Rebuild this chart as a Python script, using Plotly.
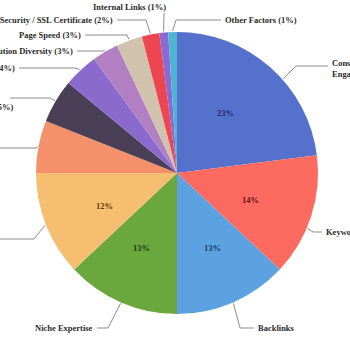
import math
import plotly.graph_objects as go

# ---- data ----
factors = [
    "Consistent Publication of Engaging Content",
    "Keywords in Meta Title Tags",
    "Backlinks",
    "Niche Expertise",
    "Searcher Engagement",
    "Freshness",
    "Trustworthiness",
    "Mobile-Friendly Website",
    "Link Distribution Diversity",
    "Page Speed",
    "Site Security / SSL Certificate",
    "Internal Links",
    "Other Factors",
]
shares = [23, 14, 13, 13, 12, 6, 5, 4, 3, 3, 2, 1, 1]
colors = ["#5571CB", "#FD6A60", "#5CA2E0", "#6AA83E", "#F6BE70", "#F4916A",
          "#4A3F56", "#8A6BCD", "#B17FC2", "#D1C2AE", "#EE4650", "#8A6AD2", "#4DB5D4"]
inside_colors = ["#1E2A66", "#5A1414", "#153A66", "#1E3A0C", "#5A380C"]
big = 5  # slices that carry the % inside

# ---- layout helpers (pixel geometry of a 350x350 canvas) ----
W = H = 350
CX, CY, R = 177, 173, 141

def px(x):
    return x / W

def py(y):
    return 1 - y / H

fig = go.Figure(go.Pie(
    labels=factors, values=shares, sort=False, direction="clockwise", rotation=0,
    marker=dict(colors=colors, line=dict(width=0)),
    textinfo="none", hoverinfo="label+percent", showlegend=False,
    domain=dict(x=[px(CX - R), px(CX + R)], y=[py(CY + R), py(CY - R)]),
))

total = sum(shares)
mids = []
acc = 0
for v in shares:
    mids.append((acc + v / 2) / total * 360)
    acc += v

def edge(theta_deg, rr):
    t = math.radians(theta_deg)
    return CX + rr * math.sin(t), CY - rr * math.cos(t)

font = dict(family="Liberation Serif", size=8.5, color="#2b2b2b")

# inside percentage labels
for i in range(big):
    x, y = edge(mids[i], R * 0.63)
    fig.add_annotation(x=px(x), y=py(y), xref="paper", yref="paper",
                       text=f"<b>{shares[i]}%</b>", showarrow=False,
                       font=dict(family="Liberation Serif", size=8.5, color=inside_colors[i]))

# leader line layout: angle offset, elbow, end, text pos, anchor, display text
label_layout = [
    (7, (296, 66), (328, 66), (330, 68), "left"),
    (5, (313, 232), (322, 232), (324, 232), "left"),
    (0, (240, 328), (254, 328), (256, 328), "left"),
    (0, (108, 328), (97, 328), (95, 328), "right"),
    (0, (34, 239), (-5, 239), (-8, 239), "right"),
    (0, (36, 148), (-5, 148), (-8, 148), "right"),
    (0, (50, 98), (10, 98), (16, 107), "right"),
    (0, (75, 68), (19, 68), (17, 68), "right"),
    (0, (104, 51), (77, 51), (75, 51), "right"),
    (0, (127, 35), (85, 35), (83, 35), "right"),
    (0, (146, 20), (117, 20), (115, 20), "right"),
    (0, (164, 13), (164, 13), (168, 7), "right"),
    (0, (176, 20), (221, 20), (223, 20), "left"),
]

for i, (off, elbow, end, tpos, anchor) in enumerate(label_layout):
    sx, sy = edge(mids[i] + off, R + 1)
    path = (f"M {px(sx)} {py(sy)} L {px(elbow[0])} {py(elbow[1])} "
            f"L {px(end[0])} {py(end[1])}")
    fig.add_shape(type="path", path=path, xref="paper", yref="paper",
                  line=dict(color="#6f6f6f", width=0.8))
    if i < big:
        name = factors[i]
        if i == 0:
            name = "Consistent Publication of<br>Engaging Content"
    else:
        name = f"{factors[i]} ({shares[i]}%)"
    fig.add_annotation(x=px(tpos[0]), y=py(tpos[1]), xref="paper", yref="paper",
                       text=f"<b>{name}</b>", showarrow=False, xanchor=anchor,
                       yanchor="middle", align=anchor, font=font)

fig.update_layout(width=W, height=H, margin=dict(l=0, r=0, t=0, b=0),
                  paper_bgcolor="white", plot_bgcolor="white")
fig.write_html("out.html")
